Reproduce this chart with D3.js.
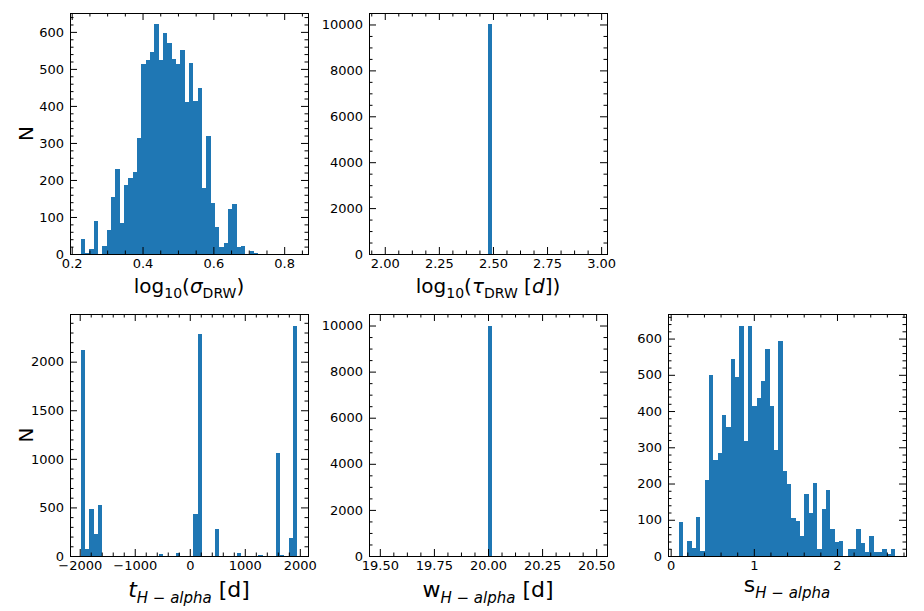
<!DOCTYPE html>
<html><head><meta charset="utf-8">
<script src="https://cdn.jsdelivr.net/npm/d3@7"></script>
<style>body{margin:0;background:#fff}svg{display:block}</style>
</head><body><svg id="c" width="924" height="611"></svg>
<script>
// ---------- data ----------
const sigmaRange = [0.2257, 0.8367];
const sigmaCounts = [40,3,14,90,0,22,65,154,229,85, 186,205,221,312,514,525,546,620,525,597,
  570,527,512,551,410,517,412,449,178,318, 138,73,20,30,122,135,20,22,0,7, 4,0,0,0,0,0,0,0,0,1];
const sigmaXTicks = [0.2,0.4,0.6,0.8];
const sigmaXLabels = ["0.2","0.4","0.6","0.8"];

const tauRange = [1.9771, 2.9771];
const tauCounts = [0,0,0,0,0,0,0,0,0,0, 0,0,0,0,0,0,0,0,0,0, 0,0,0,0,0,10000,0,0,0,0,
  0,0,0,0,0,0,0,0,0,0, 0,0,0,0,0,0,0,0,0,0];
const tauXTicks = [2.0,2.25,2.5,2.75,3.0];
const tauXLabels = ["2.00","2.25","2.50","2.75","3.00"];

const tRange = [-1980, 1952];
const tCounts = [2117,75,481,225,522,0,0,0,0,0, 0,0,0,0,0,0,0,0,20,0, 0,0,30,0,0,0,430,2284,0,0,
  0,276,0,0,0,0,30,0,0,0, 0,10,0,0,0,1064,10,0,184,2372];
const tXTicks = [-2000,-1000,0,1000,2000];
const tXLabels = ["\u22122000","\u22121000","0","1000","2000"];

const wRange = [19.5, 20.5];
const wCounts = [0,0,0,0,0,0,0,0,0,0, 0,0,0,0,0,0,0,0,0,0, 0,0,0,0,0,10000,0,0,0,0,
  0,0,0,0,0,0,0,0,0,0, 0,0,0,0,0,0,0,0,0,0];
const wXTicks = [19.5,19.75,20.0,20.25,20.5];
const wXLabels = ["19.50","19.75","20.00","20.25","20.50"];

const sRange = [0.098, 2.70];
const sCounts = [94,0,41,22,107,15,209,499,264,284, 388,356,545,493,634,317,636,413,435,482,
  570,415,292,592,234,198,105,96,55,171, 118,201,19,129,182,74,39,41,0,19,
  19,74,36,11,55,11,11,19,5,19];
const sXTicks = [0,1,2];
const sXLabels = ["0","1","2"];

const yTicks600 = [0,100,200,300,400,500,600];
const yTicks10k = [0,2000,4000,6000,8000,10000];
const yTicks2k = [0,500,1000,1500,2000];

// ---------- layout ----------
const svg = d3.select("#c");
svg.append("rect").attr("width",924).attr("height",611).attr("fill","#fff");
const cols = [[70,308],[369,607],[668,906]];
const rows = [[13,254],[314,556]];
const FONT = "DejaVu Sans, sans-serif";
const BLUE = "#1f77b4";

function minorVals(domain, step, majors){
  const k0 = Math.ceil(domain[0]/step - 1e-9), k1 = Math.floor(domain[1]/step + 1e-9);
  return d3.range(k0, k1+1).map(k => +(k*step).toFixed(10))
    .filter(v => !majors.some(m => Math.abs(m - v) < step*1e-3));
}

function panel(opt){
  const [x0,x1] = cols[opt.col], [y0,y1] = rows[opt.row];
  const n = opt.counts.length;
  const lo = opt.range[0], hi = opt.range[1], bw = (hi-lo)/n, m = 0.05*(hi-lo);
  const x = d3.scaleLinear().domain([lo-m, hi+m]).range([x0,x1]);
  const yMax = d3.max(opt.counts)*1.05;
  const y = d3.scaleLinear().domain([0,yMax]).range([y1,y0]);
  const g = svg.append("g");

  g.append("g").selectAll("rect").data(opt.counts.map((c,i)=>({c,i})).filter(d=>d.c>0))
    .join("rect")
    .attr("x", d => x(lo + d.i*bw))
    .attr("width", d => x(lo + (d.i+1)*bw) - x(lo + d.i*bw))
    .attr("y", d => y(d.c))
    .attr("height", d => y(0) - y(d.c))
    .attr("fill", BLUE)
    .attr("shape-rendering","crispEdges");

  const xMinor = minorVals(x.domain(), opt.xMinor, opt.xTicks);
  const yMinor = minorVals(y.domain(), opt.yMinor, opt.yTicks);

  function styleAxis(sel){
    sel.attr("font-family", FONT).attr("font-size", 13).attr("color","#000");
    sel.select(".domain").remove();
    sel.selectAll("text").attr("fill","#000");
    sel.selectAll("line").attr("stroke-width",1);
  }
  // bottom
  g.append("g").attr("transform",`translate(0,${y1})`)
    .call(d3.axisBottom(x).tickValues(opt.xTicks).tickFormat((d,i)=>opt.xLabels[i])
      .tickSizeInner(-7).tickSizeOuter(0).tickPadding(4.5)).call(styleAxis);
  g.append("g").attr("transform",`translate(0,${y1})`)
    .call(d3.axisBottom(x).tickValues(xMinor).tickFormat("").tickSizeInner(-3.5).tickSizeOuter(0)).call(styleAxis);
  // top
  g.append("g").attr("transform",`translate(0,${y0})`)
    .call(d3.axisTop(x).tickValues(opt.xTicks).tickFormat("").tickSizeInner(-7).tickSizeOuter(0)).call(styleAxis);
  g.append("g").attr("transform",`translate(0,${y0})`)
    .call(d3.axisTop(x).tickValues(xMinor).tickFormat("").tickSizeInner(-3.5).tickSizeOuter(0)).call(styleAxis);
  // left
  g.append("g").attr("transform",`translate(${x0},0)`)
    .call(d3.axisLeft(y).tickValues(opt.yTicks).tickFormat(d3.format("d"))
      .tickSizeInner(-7).tickSizeOuter(0).tickPadding(6)).call(styleAxis);
  g.append("g").attr("transform",`translate(${x0},0)`)
    .call(d3.axisLeft(y).tickValues(yMinor).tickFormat("").tickSizeInner(-3.5).tickSizeOuter(0)).call(styleAxis);
  // right
  g.append("g").attr("transform",`translate(${x1},0)`)
    .call(d3.axisRight(y).tickValues(opt.yTicks).tickFormat("").tickSizeInner(-7).tickSizeOuter(0)).call(styleAxis);
  g.append("g").attr("transform",`translate(${x1},0)`)
    .call(d3.axisRight(y).tickValues(yMinor).tickFormat("").tickSizeInner(-3.5).tickSizeOuter(0)).call(styleAxis);

  // frame
  g.append("rect").attr("x", Math.round(x0)+0.5).attr("y", Math.round(y0)+0.5)
    .attr("width", Math.round(x1)-Math.round(x0)).attr("height", Math.round(y1)-Math.round(y0))
    .attr("fill","none").attr("stroke","#000").attr("stroke-width",1);

  // x label
  const fs = opt.fs, subFs = Math.round(fs*0.7), shift = Math.round(fs*0.25);
  const t = g.append("text").attr("x",(x0+x1)/2).attr("y",opt.labelY)
    .attr("text-anchor","middle").attr("font-family",FONT).attr("font-size",fs).attr("fill","#000");
  let shifted = 0;
  opt.label.forEach(p => {
    const ts = t.append("tspan").text(p.t);
    if (p.i) ts.attr("font-style","italic");
    const want = p.s ? shift : 0;
    if (want !== shifted) { ts.attr("dy", want - shifted); shifted = want; }
    if (p.s) ts.attr("font-size",subFs);
  });
  if (opt.ylabel){
    g.append("text").attr("transform",`translate(33,${(y0+y1)/2}) rotate(-90)`)
      .attr("text-anchor","middle").attr("font-family",FONT).attr("font-size",20)
      .attr("fill","#000").text("N");
  }
}

const sub = "H \u2212 alpha";
panel({col:0,row:0,range:sigmaRange,counts:sigmaCounts,xTicks:sigmaXTicks,xLabels:sigmaXLabels,xMinor:0.05,
  yTicks:yTicks600,yMinor:20,ylabel:true,labelY:293,fs:20,
  label:[{t:"log"},{t:"10",s:1},{t:"("},{t:"\u03c3",i:1},{t:"DRW",s:1},{t:")"}]});
panel({col:1,row:0,range:tauRange,counts:tauCounts,xTicks:tauXTicks,xLabels:tauXLabels,xMinor:0.0625,
  yTicks:yTicks10k,yMinor:500,labelY:293,fs:20,
  label:[{t:"log"},{t:"10",s:1},{t:"("},{t:"\u03c4",i:1},{t:"DRW",s:1},{t:" ["},{t:"d",i:1},{t:"])"}]});
panel({col:0,row:1,range:tRange,counts:tCounts,xTicks:tXTicks,xLabels:tXLabels,xMinor:200,
  yTicks:yTicks2k,yMinor:100,ylabel:true,labelY:597,fs:22,
  label:[{t:"t",i:1},{t:sub,i:1,s:1},{t:" [d]"}]});
panel({col:1,row:1,range:wRange,counts:wCounts,xTicks:wXTicks,xLabels:wXLabels,xMinor:0.0625,
  yTicks:yTicks10k,yMinor:500,labelY:597,fs:22,
  label:[{t:"w"},{t:sub,i:1,s:1},{t:" [d]"}]});
panel({col:2,row:1,range:sRange,counts:sCounts,xTicks:sXTicks,xLabels:sXLabels,xMinor:0.2,
  yTicks:yTicks600,yMinor:20,labelY:592,fs:22,
  label:[{t:"s"},{t:sub,i:1,s:1}]});
</script>
</body></html>
